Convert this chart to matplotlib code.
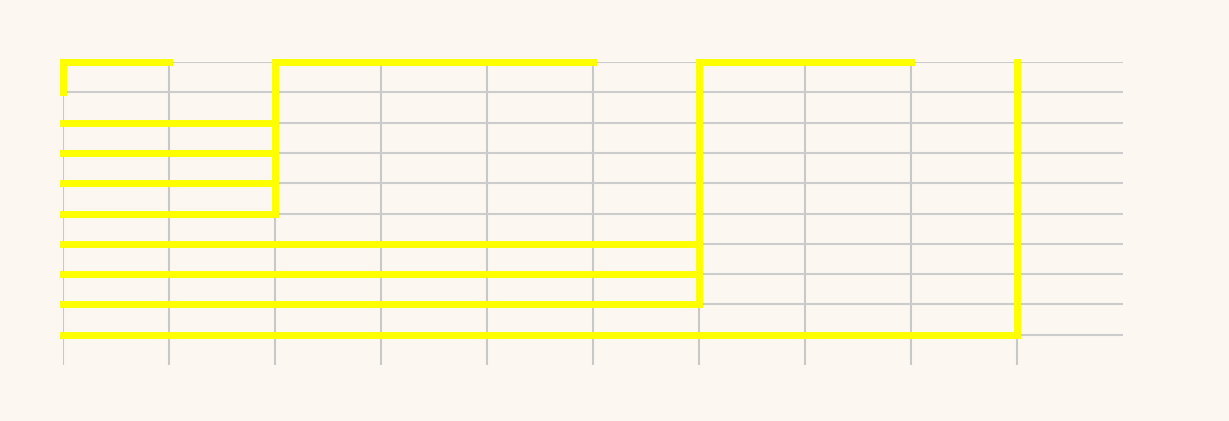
import matplotlib
matplotlib.use("Agg")
import matplotlib.pyplot as plt

# horizontal segments: row, start, end
h_rows = [0, 2, 3, 4, 5, 0, 6, 7, 8, 0, 9]
h_start = [0, 0, 0, 0, 0, 2, 0, 0, 0, 6, 0]
h_end = [1, 2, 2, 2, 2, 5, 6, 6, 6, 8, 9]
# vertical segments: column, from row, to row
v_cols = [0, 2, 6, 9]
v_from = [0, 0, 0, 0]
v_to = [1, 5, 8, 9]

bg = "#fcf8f1"
fig = plt.figure(figsize=(12.29, 4.21), dpi=100, facecolor=bg)
ax = fig.add_axes([63/1229, 1-365/421, (1123-63)/1229, (365-62)/421])
ax.set_facecolor(bg)
ax.set_xlim(0, 10)
ax.set_ylim(10, 0)

for x in range(10):
    ax.plot([x, x], [0, 10], color="#c8c8c8", lw=1.5, zorder=1)
for y in range(10):
    ax.plot([0, 10], [y, y], color="#cccccc", lw=1.5, zorder=1)

for y, a, b in zip(h_rows, h_start, h_end):
    ax.plot([a, b], [y, y], color="#ffff00", lw=5, solid_capstyle="projecting", zorder=3, clip_on=False)
for x, a, b in zip(v_cols, v_from, v_to):
    ax.plot([x, x], [a, b], color="#ffff00", lw=5, solid_capstyle="projecting", zorder=3, clip_on=False)

ax.axis("off")
fig.savefig("out.png", dpi=100, facecolor=bg)
